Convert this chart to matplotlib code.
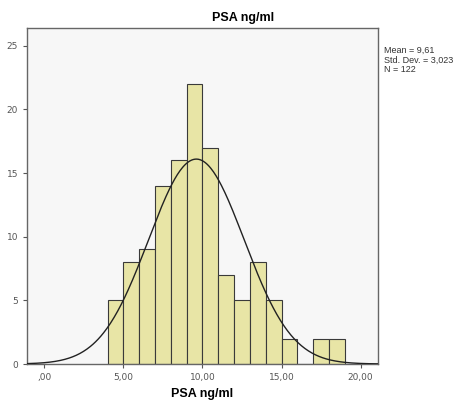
import matplotlib.pyplot as plt
import numpy as np

# histogram counts, bin width 1
bin_left = [4, 5, 6, 7, 8, 9, 10, 11, 12, 13, 14, 15, 16, 17, 18]
counts = [5, 8, 9, 14, 16, 22, 17, 7, 5, 8, 5, 2, 0, 2, 2]
mean, sd, n = 9.61, 3.023, 122
xticks = [0, 5, 10, 15, 20]
xtick_labels = [',00', '5,00', '10,00', '15,00', '20,00']
yticks = [0, 5, 10, 15, 20, 25]

fig = plt.figure(figsize=(4.57, 4.03), dpi=100)
ax = fig.add_axes([27 / 457, 1 - 364 / 403, (378 - 27) / 457, (364 - 28) / 403])
ax.set_facecolor('#f7f7f7')

ax.bar(bin_left, counts, width=1, align='edge', color='#e8e5a6',
       edgecolor='#3a3a3a', linewidth=0.8, zorder=2)

xs = np.linspace(-1.1, 21.1, 400)
pdf = n * 1.0 / (sd * np.sqrt(2 * np.pi)) * np.exp(-0.5 * ((xs - mean) / sd) ** 2)
ax.plot(xs, pdf, color='#222222', linewidth=1.0, zorder=3)

ax.set_xlim(-1.1, 21.1)
ax.set_ylim(0, 26.4)
ax.set_xticks(xticks)
ax.set_xticklabels(xtick_labels)
ax.set_yticks(yticks)
ax.tick_params(labelsize=6.5, colors='#555555', length=3, width=0.8)
for sp in ax.spines.values():
    sp.set_color('#666666')
    sp.set_linewidth(1.0)

fig.text(243 / 457, 1 - 18 / 403, 'PSA ng/ml', ha='center', va='center',
         fontsize=9, fontweight='bold', family='Liberation Sans')
fig.text(202 / 457, 1 - 394 / 403, 'PSA ng/ml', ha='center', va='center',
         fontsize=9, fontweight='bold', family='Liberation Sans')
fig.text(384 / 457, 1 - 46 / 403, 'Mean = 9,61\nStd. Dev. = 3,023\nN = 122',
         ha='left', va='top', fontsize=6.5, color='#333333', linespacing=1.05,
         family='Liberation Sans')

fig.savefig('out.png', dpi=100)
